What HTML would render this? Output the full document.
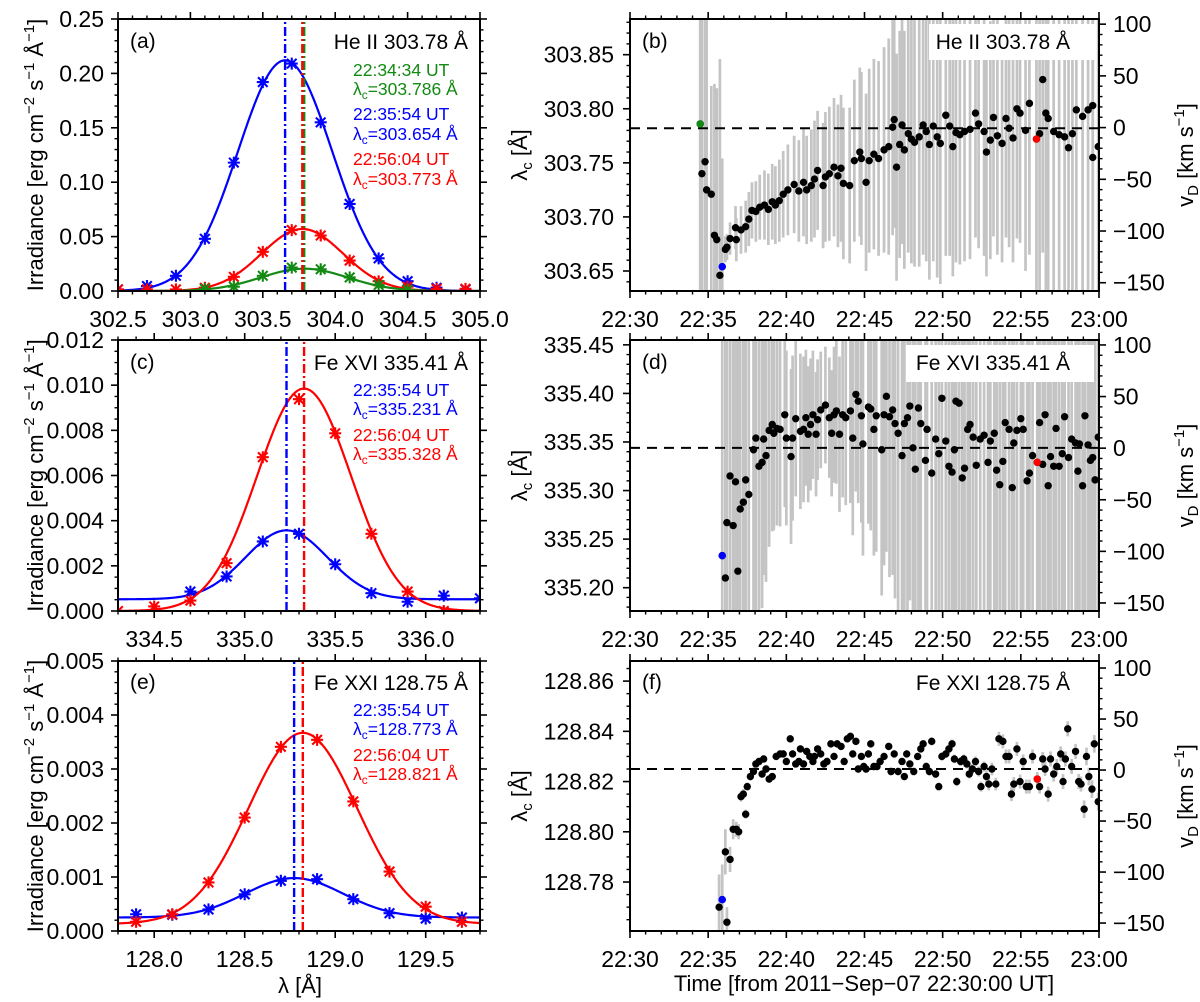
<!DOCTYPE html>
<html><head><meta charset="utf-8"><style>
html,body{margin:0;padding:0;background:#fff;}
svg{display:block;}
text{font-family:"Liberation Sans",Arial,sans-serif;}
</style></head><body>
<svg id="chart" xmlns="http://www.w3.org/2000/svg" width="1200" height="1002" viewBox="0 0 1200 1002">
<rect x="0" y="0" width="1200" height="1002" fill="#fff"/>
</svg>
<script>
// ---------- Panel (a) He II spectra ----------
const xA = [302.5,302.7,302.9,303.1,303.3,303.5,303.7,303.9,304.1,304.3,304.5,304.7,304.9];
const aBlue = [0.0015,0.0046,0.014,0.048,0.118,0.192,0.209,0.155,0.080,0.030,0.009,0.003,0.0015];
const aRed = [0.0015,0.0015,0.0015,0.003,0.013,0.036,0.056,0.051,0.028,0.009,0.004,0.002,0.002];
const xAg = [303.1,303.3,303.5,303.7,303.9,304.1,304.3,304.5];
const aGreen = [0.002,0.004,0.014,0.0215,0.020,0.0125,0.0055,0.001];
const fitA = {blue:[303.654,0.212,0.325,0], red:[303.773,0.057,0.28,0], green:[303.786,0.0205,0.30,0]};
// ---------- Panel (c) Fe XVI spectra ----------
const xCb = [334.7,334.9,335.1,335.3,335.5,335.7,335.9,336.1,336.3];
const cBlue = [0.00086,0.00153,0.00308,0.00342,0.00207,0.00079,0.00041,0.00068,0.00056];
const xCr = [334.3,334.5,334.7,334.9,335.1,335.3,335.5,335.7,335.9,336.1];
const cRed = [0,0.0002,0.00046,0.00212,0.00681,0.00938,0.00787,0.00342,0.00086,0];
const fitC = {blue:[335.231,0.00305,0.227,0.00052], red:[335.328,0.00985,0.26,0]};
// ---------- Panel (e) Fe XXI spectra ----------
const xE = [127.9,128.1,128.3,128.5,128.7,128.9,129.1,129.3,129.5,129.7];
const eBlue = [0.00031,0.0003,0.0004,0.00068,0.00093,0.00096,0.00059,0.00033,0.00023,0.00025];
const eRed = [0.00017,0.00031,0.0009,0.0021,0.00341,0.00354,0.0024,0.0011,0.00045,0.00017];
const fitE = {blue:[128.773,0.00073,0.27,0.00025], red:[128.821,0.00354,0.30,0.00013]};

// ---------- Panel (b) He II centroid (minutes after 22:30) ----------
const tB = [4.49,4.6,4.8,4.9,5.2,5.4,5.55,5.75,5.9,6.1,
6.2,6.4,6.75,6.8,7.1,7.4,7.6,7.8,8.05,8.3,
8.6,8.85,9.1,9.3,9.55,9.8,10.1,10.5,10.8,11.1,
11.3,11.6,11.8,12.0,12.35,12.5,12.75,13.05,13.3,13.5,
13.65,14.05,14.35,14.7,14.8,15.1,15.3,15.6,15.9,16.25,
16.55,16.8,16.9,17.05,17.25,17.4,17.55,17.8,18.0,18.2,
18.5,18.75,18.95,19.15,19.4,19.65,19.85,20.2,20.45,20.65,
20.85,21.1,21.4,21.75,22.1,22.3,22.65,22.8,23.05,23.25,
23.5,23.8,24.05,24.25,24.5,24.75,24.95,25.3,25.55,26.0,
26.2,26.4,26.6,26.75,27.1,27.45,27.8,28.05,28.3,28.55,
28.95,29.3,29.6,29.6,29.95];
const lamB = [303.786,303.740,303.751,303.725,303.721,303.683,303.679,303.646,303.654,303.670,
303.672,303.680,303.690,303.679,303.688,303.691,303.698,303.706,303.705,303.709,
303.711,303.707,303.714,303.711,303.715,303.721,303.725,303.730,303.724,303.732,
303.725,303.729,303.735,303.743,303.729,303.737,303.740,303.746,303.738,303.745,
303.731,303.729,303.752,303.760,303.754,303.732,303.752,303.758,303.754,303.762,
303.765,303.783,303.790,303.746,303.767,303.785,303.762,303.777,303.772,303.769,
303.774,303.785,303.779,303.767,303.784,303.774,303.768,303.794,303.784,303.765,
303.778,303.776,303.779,303.781,303.796,303.786,303.779,303.760,303.771,303.792,
303.775,303.768,303.791,303.782,303.773,303.800,303.796,303.780,303.805,303.772,
303.777,303.827,303.796,303.791,303.779,303.776,303.774,303.764,303.777,303.799,
303.793,303.799,303.803,303.755,303.765];
const errB = [0.4,0.4,0.4,0.4,0.1,0.14,0.14,0.2,0.1,0.012,
0.012,0.015,0.02,0.02,0.022,0.024,0.025,0.026,0.028,0.03,
0.032,0.033,0.035,0.036,0.038,0.04,0.042,0.045,0.047,0.05,
0.05,0.052,0.054,0.055,0.058,0.06,0.062,0.064,0.066,0.068,
0.07,0.072,0.075,0.078,0.08,0.082,0.085,0.088,0.09,0.095,
0.1,0.1,0.1,0.105,0.105,0.11,0.11,0.11,0.115,0.115,
0.12,0.12,0.12,0.125,0.125,0.13,0.13,0.13,0.12,0.12,
0.12,0.12,0.12,0.12,0.115,0.115,0.115,0.115,0.11,0.11,
0.11,0.11,0.11,0.11,0.115,0.12,0.12,0.13,0.14,0.15,
0.15,0.16,0.17,0.17,0.18,0.18,0.19,0.19,0.2,0.2,
0.2,0.2,0.2,0.2,0.2];
const hlB_t = [4.49,5.9,26.0];
const hlB_v = [303.786,303.654,303.772];

// ---------- Panel (d) Fe XVI centroid ----------
const tD = [5.9,6.1,6.2,6.4,6.6,6.75,6.9,7.05,7.25,7.4,
7.6,7.9,8.05,8.25,8.45,8.55,8.7,8.9,9.1,9.2,
9.4,9.6,9.9,10.0,10.3,10.4,10.6,10.9,11.1,11.25,
11.4,11.55,11.7,11.9,12.0,12.2,12.5,12.75,12.9,13.05,
13.2,13.4,13.6,13.8,14.1,14.25,14.45,14.6,14.8,14.9,
15.25,15.4,15.6,15.75,16.1,16.25,16.4,16.6,16.8,16.95,
17.15,17.4,17.55,17.75,17.9,18.1,18.25,18.45,18.6,18.9,
19.0,19.3,19.55,19.75,19.95,20.2,20.4,20.6,20.75,20.85,
21.05,21.25,21.4,21.6,21.75,21.95,22.15,22.4,22.65,22.9,
23.05,23.3,23.45,23.65,23.85,24.0,24.25,24.45,24.55,24.75,
25.0,25.15,25.4,25.55,25.75,26.05,26.2,26.4,26.55,26.75,
26.9,27.1,27.25,27.45,27.65,27.8,28.05,28.25,28.5,28.65,
28.75,28.95,29.1,29.3,29.45,29.6,29.75,29.95];
const lamD = [335.233,335.210,335.267,335.315,335.264,335.309,335.217,335.281,335.288,335.311,
335.296,335.342,335.354,335.325,335.329,335.353,335.336,335.362,335.368,335.359,
335.364,335.363,335.378,335.354,335.335,335.354,335.374,335.361,335.363,335.375,
335.358,335.368,335.378,335.358,335.373,335.383,335.388,335.375,335.359,335.378,
335.382,335.358,335.378,335.375,335.382,335.354,335.399,335.392,335.377,335.348,
335.386,335.384,335.363,335.377,335.342,335.378,335.397,335.376,335.383,335.369,
335.359,335.336,335.369,335.375,335.387,335.344,335.322,335.385,335.369,335.331,
335.363,335.318,335.353,335.338,335.395,335.351,335.325,335.319,335.342,335.392,
335.390,335.313,335.323,335.363,335.368,335.355,335.326,335.353,335.357,335.329,
335.351,335.359,335.321,335.306,335.330,335.370,335.363,335.303,335.349,335.362,
335.374,335.363,335.310,335.318,335.336,335.329,335.370,335.327,335.378,335.305,
335.335,335.325,335.364,335.325,335.338,335.376,335.334,335.353,335.349,335.320,
335.348,335.305,335.377,335.347,335.331,335.334,335.311,335.355];
const errD = [0.35,0.35,0.35,0.35,0.35,0.35,0.35,0.35,0.35,0.35,
0.3,0.2,0.18,0.16,0.15,0.14,0.13,0.12,0.11,0.1,
0.1,0.1,0.095,0.09,0.09,0.085,0.08,0.08,0.075,0.07,
0.07,0.068,0.066,0.064,0.062,0.06,0.06,0.062,0.065,0.07,
0.075,0.08,0.085,0.09,0.095,0.1,0.1,0.105,0.11,0.115,
0.12,0.125,0.13,0.14,0.15,0.155,0.16,0.165,0.17,0.18,
0.2,0.2,0.2,0.2,0.2,0.21,0.21,0.21,0.21,0.22,
0.22,0.22,0.22,0.22,0.22,0.22,0.22,0.22,0.22,0.22,
0.22,0.22,0.22,0.22,0.22,0.22,0.22,0.22,0.22,0.22,
0.22,0.22,0.22,0.22,0.22,0.22,0.22,0.22,0.22,0.22,
0.23,0.23,0.23,0.23,0.23,0.23,0.23,0.23,0.23,0.23,
0.24,0.24,0.24,0.24,0.24,0.24,0.24,0.24,0.24,0.24,
0.25,0.25,0.25,0.25,0.25,0.25,0.25,0.25];
const hlD_t = [5.9,26.05];
const hlD_v = [335.233,335.329];

// ---------- Panel (f) Fe XXI centroid ----------
const tF = [5.7,5.9,6.1,6.2,6.4,6.6,6.8,6.95,7.1,7.25,
7.4,7.5,7.7,7.9,8.05,8.25,8.45,8.55,8.7,8.9,
9.1,9.35,9.6,9.8,10.0,10.25,10.4,10.6,10.8,10.9,
11.1,11.3,11.5,11.7,11.8,12.0,12.2,12.4,12.6,12.85,
13.05,13.25,13.5,13.7,13.9,14.1,14.25,14.45,14.6,14.8,
14.95,15.1,15.25,15.4,15.6,15.8,16.0,16.25,16.55,16.7,
16.9,17.15,17.4,17.55,17.7,17.9,18.15,18.4,18.6,18.75,
18.95,19.15,19.3,19.55,19.75,19.95,20.2,20.4,20.6,20.75,
20.9,21.15,21.35,21.55,21.7,21.9,22.1,22.3,22.45,22.65,
22.8,22.95,23.15,23.4,23.6,23.85,24.05,24.25,24.4,24.55,
24.75,24.95,25.15,25.35,25.55,25.75,26.05,26.2,26.4,26.55,
26.75,26.9,27.1,27.3,27.55,27.7,27.85,28.0,28.25,28.5,
28.7,28.85,29.05,29.2,29.35,29.55,29.7,29.95];
const lamF = [128.770,128.773,128.792,128.764,128.789,128.801,128.801,128.800,128.814,128.815,
128.807,128.818,128.822,128.824,128.827,128.828,128.823,128.829,128.825,128.821,
128.822,128.830,128.831,128.831,128.828,128.837,128.831,128.827,128.828,128.833,
128.827,128.832,128.830,128.828,128.830,128.833,128.831,128.827,128.828,128.835,
128.830,128.835,128.834,128.828,128.837,128.838,128.831,128.836,128.825,128.830,
128.826,128.825,128.831,128.835,128.826,128.826,128.828,128.830,128.834,128.824,
128.831,128.824,128.828,128.822,128.831,128.827,128.824,128.830,128.833,128.835,
128.826,128.824,128.836,128.823,128.818,128.830,128.831,128.833,128.835,128.829,
128.820,128.828,128.829,128.827,128.823,128.825,128.828,128.824,128.818,128.826,
128.822,128.819,128.825,128.819,128.837,128.836,128.830,128.830,128.815,128.819,
128.833,128.820,128.828,128.818,128.818,128.830,128.821,128.818,128.829,128.825,
128.815,128.829,128.823,128.826,128.831,128.820,128.829,128.841,128.826,128.832,
128.820,128.819,128.809,128.830,128.822,128.817,128.835,128.812];
const errF = [0.013,0.014,0.009,0.006,0.005,0.004,0.003,0.003,0.002,0.002,
0.0018,0.0016,0.0015,0.0015,0.0015,0.0015,0.0015,0.0015,0.0015,0.0015,
0.0015,0.0015,0.0015,0.0015,0.0015,0.0015,0.0015,0.0015,0.0015,0.0015,
0.0015,0.0015,0.0015,0.0015,0.0015,0.0015,0.0015,0.0015,0.0015,0.0015,
0.0015,0.0015,0.0015,0.0015,0.0015,0.0015,0.0015,0.0015,0.0015,0.0015,
0.0015,0.0015,0.0015,0.0015,0.0015,0.0015,0.0015,0.0015,0.0015,0.0015,
0.0015,0.0015,0.0015,0.0015,0.0015,0.0015,0.0015,0.0015,0.0015,0.0015,
0.0016,0.0016,0.0016,0.0016,0.0016,0.0017,0.0017,0.0017,0.0017,0.0017,
0.0018,0.0018,0.0018,0.0018,0.0018,0.002,0.002,0.002,0.002,0.002,
0.0025,0.0025,0.0025,0.0025,0.0028,0.0028,0.0028,0.0028,0.0028,0.0028,
0.0028,0.0028,0.0028,0.0028,0.0028,0.0028,0.0028,0.0028,0.0028,0.0028,
0.003,0.003,0.003,0.003,0.003,0.003,0.003,0.003,0.003,0.003,
0.003,0.003,0.0035,0.0035,0.0035,0.0035,0.0035,0.0035];
const hlF_t = [5.9,26.05];
const hlF_v = [128.773,128.821];

// ---------- tick labels ----------
const ticksXA = [302.5,303.0,303.5,304.0,304.5,305.0];
const labelsXA = ["302.5","303.0","303.5","304.0","304.5","305.0"];
const ticksYA = [0,0.05,0.10,0.15,0.20,0.25];
const labelsYA = ["0.00","0.05","0.10","0.15","0.20","0.25"];
const ticksXC = [334.5,335.0,335.5,336.0];
const labelsXC = ["334.5","335.0","335.5","336.0"];
const ticksYC = [0,0.002,0.004,0.006,0.008,0.010,0.012];
const labelsYC = ["0.000","0.002","0.004","0.006","0.008","0.010","0.012"];
const ticksXE = [128.0,128.5,129.0,129.5];
const labelsXE = ["128.0","128.5","129.0","129.5"];
const ticksYE = [0,0.001,0.002,0.003,0.004,0.005];
const labelsYE = ["0.000","0.001","0.002","0.003","0.004","0.005"];
const ticksT = [0,5,10,15,20,25,30];
const labelsT = ["22:30","22:35","22:40","22:45","22:50","22:55","23:00"];
const ticksYB = [303.65,303.70,303.75,303.80,303.85];
const labelsYB = ["303.65","303.70","303.75","303.80","303.85"];
const ticksYD = [335.20,335.25,335.30,335.35,335.40,335.45];
const labelsYD = ["335.20","335.25","335.30","335.35","335.40","335.45"];
const ticksYF = [128.78,128.80,128.82,128.84,128.86];
const labelsYF = ["128.78","128.80","128.82","128.84","128.86"];
const ticksV = [-150,-100,-50,0,50,100];
const labelsV = ["\u2212150","\u2212100","\u221250","0","50","100"];
const restB = 303.782, restD = 335.344, restF = 128.825;

const NS = 'http://www.w3.org/2000/svg';
const svg = document.getElementById('chart');
const BLUE = '#0000ff', RED = '#ff0000', GREEN = '#138a13';
function mk(tag, attrs, parent) {
  const e = document.createElementNS(NS, tag);
  for (const k in attrs) e.setAttribute(k, attrs[k]);
  (parent || svg).appendChild(e);
  return e;
}
function lin(d0, d1, r0, r1) { return v => r0 + (v - d0) / (d1 - d0) * (r1 - r0); }
function fmt(v) { return Math.round(v * 1e6) / 1e6; }

const rowTop = [19, 340, 661], rowBot = [291, 611, 931];
const LX0 = 118, LX1 = 480, RX0 = 630, RX1 = 1099;
let clipN = 0;

function makeClip(x0, y0, x1, y1) {
  clipN++;
  const cp = mk('clipPath', {id: 'clip' + clipN});
  mk('rect', {x: x0, y: y0, width: x1 - x0, height: y1 - y0}, cp);
  return 'url(#clip' + clipN + ')';
}

function addText(parent, x, y, str, size, anchor, fill) {
  const t = mk('text', {x: x, y: y, 'font-size': size, 'text-anchor': anchor || 'start', fill: fill || '#000'}, parent);
  t.textContent = str;
  return t;
}

function ticks(g, side, scale, majors, labels, minStep, d0, d1, fix, labOff) {
  const majSet = majors.map(fmt);
  const all = [];
  const start = Math.ceil(Math.min(d0, d1) / minStep - 1e-6) * minStep;
  for (let v = start; v <= Math.max(d0, d1) + 1e-9; v += minStep) all.push(fmt(v));
  all.forEach(v => {
    const isMaj = majSet.some(m => Math.abs(m - v) < minStep * 0.01);
    if (isMaj) return;
    const p = scale(v), L = 3.5;
    let a;
    if (side === 'bottom') a = {x1: p, x2: p, y1: fix, y2: fix + L};
    else if (side === 'top') a = {x1: p, x2: p, y1: fix, y2: fix - L};
    else if (side === 'left') a = {x1: fix, x2: fix - L, y1: p, y2: p};
    else a = {x1: fix, x2: fix + L, y1: p, y2: p};
    a.stroke = '#000'; a['stroke-width'] = 1.4;
    const ln = mk('line', a, g);
    
    
  });
  majors.forEach((v, i) => {
    const p = scale(v), L = 7;
    let a;
    if (side === 'bottom') a = {x1: p, x2: p, y1: fix, y2: fix + L};
    else if (side === 'top') a = {x1: p, x2: p, y1: fix, y2: fix - L};
    else if (side === 'left') a = {x1: fix, x2: fix - L, y1: p, y2: p};
    else a = {x1: fix, x2: fix + L, y1: p, y2: p};
    a.stroke = '#000'; a['stroke-width'] = 1.6;
    const ln = mk('line', a, g);
    
    
    if (labels) {
      let t;
      if (side === 'bottom') t = addText(g, p, fix + labOff, labels[i], 23, 'middle');
      else if (side === 'left') t = addText(g, fix - labOff, p + 8, labels[i], 23, 'end');
      else if (side === 'right') t = addText(g, fix + labOff, p + 8, labels[i], 23, 'start');
      if (t) {
        
        
      }
    }
  });
}

function frame(g, x0, y0, x1, y1) {
  const r = mk('rect', {x: x0, y: y0, width: x1 - x0, height: y1 - y0, fill: 'none', stroke: '#000', 'stroke-width': 2}, g);
  
  
}

function asterisk(g, x, y, col) {
  const R = 6, d = R * 0.8;
  const p = mk('path', {d: `M${x},${y-R}V${y+R}M${x-R},${y}H${x+R}M${x-d},${y-d}L${x+d},${y+d}M${x-d},${y+d}L${x+d},${y-d}`, stroke: col, 'stroke-width': 2.1, fill: 'none'}, g);
  
  
}

function gaussCurve(g, sx, sy, d0, d1, par, col) {
  let d = '';
  for (let i = 0; i <= 300; i++) {
    const x = d0 + (d1 - d0) * i / 300;
    const y = par[3] + par[1] * Math.exp(-((x - par[0]) ** 2) / (2 * par[2] * par[2]));
    d += (i ? 'L' : 'M') + sx(x).toFixed(2) + ',' + sy(y).toFixed(2);
  }
  const p = mk('path', {d: d, stroke: col, 'stroke-width': 2.2, fill: 'none'}, g);
  
  
}

function vline(g, sx, x, y0, y1, col) {
  const l = mk('line', {x1: sx(x), x2: sx(x), y1: y0, y2: y1, stroke: col, 'stroke-width': 2.4, 'stroke-dasharray': '9,3,2,3'}, g);
  
  
}

function richLabel(g, x, y, parts, size, fill, anchor) {
  const t = mk('text', {x: x, y: y, 'font-size': size, fill: fill || '#000', 'text-anchor': anchor || 'start'}, g);
  parts.forEach(p => {
    const ts = mk('tspan', {}, t);
    if (p[1] === 'sub') { ts.setAttribute('font-size', size * 0.68); ts.setAttribute('dy', size * 0.22); }
    if (p[1] === 'sup') { ts.setAttribute('font-size', size * 0.68); ts.setAttribute('dy', -size * 0.4); }
    if (p[1] === 'base-sub') { ts.setAttribute('dy', -size * 0.22); }
    if (p[1] === 'base-sup') { ts.setAttribute('dy', size * 0.4); }
    ts.textContent = p[0];
  });
  return t;
}

function leftPanel(row, name, xd, yd, xt, xl, xm, yt, yl, ym, series, fits, lines, letter, title, notes) {
  const g = mk('g', {});
  
  
  const y0 = rowTop[row], y1 = rowBot[row];
  const sx = lin(xd[0], xd[1], LX0, LX1), sy = lin(yd[0], yd[1], y1, y0);
  const clip = makeClip(LX0, y0, LX1, y1);
  const inner = mk('g', {'clip-path': clip}, g);
  fits.forEach(f => gaussCurve(inner, sx, sy, xd[0], xd[1], f[0], f[1]));
  lines.forEach(l => vline(inner, sx, l[0], y1, y0, l[1]));
  series.forEach(s => s[0].forEach((x, i) => asterisk(inner, sx(x), sy(s[1][i]), s[2])));
  frame(g, LX0, y0, LX1, y1);
  ticks(g, 'bottom', sx, xt, xl, xm, xd[0], xd[1], y1, 36);
  ticks(g, 'top', sx, xt, null, xm, xd[0], xd[1], y0, 0);
  ticks(g, 'left', sy, yt, yl, ym, yd[0], yd[1], LX0, 14);
  ticks(g, 'right', sy, yt, null, ym, yd[0], yd[1], LX1, 0);
  const L = addText(g, 130, notes.base, letter, 21);
  
  
  const T = addText(g, 468, notes.base + 1, title, 21, 'end');
  
  
  notes.items.forEach(it => {
    const a = addText(g, 353, it[0], it[2], 17.5, 'start', it[4]);
    
    
    const b = richLabel(g, 353, it[1], [['\u03bb'], ['c', 'sub'], ['=' + it[3] + ' \u00c5', 'base-sub']], 17.5, it[4]);
    
    
  });
  const yl2 = richLabel(g, 43, (y0 + y1) / 2, [['Irradiance [erg cm'], ['\u22122', 'sup'], [' s', 'base-sup'], ['\u22121', 'sup'], [' \u00c5', 'base-sup'], ['\u22121', 'sup'], [']', 'base-sup']], 22, '#000', 'middle');
  yl2.setAttribute('transform', `rotate(-90,43,${(y0 + y1) / 2})`);
  
  
}

leftPanel(0, 'panel-a-he2-spectra', [302.5, 305.0], [0, 0.25], ticksXA, labelsXA, 0.1, ticksYA, labelsYA, 0.01,
  [[xA, aBlue, BLUE], [xA, aRed, RED], [xAg, aGreen, GREEN]],
  [[fitA.blue, BLUE], [fitA.red, RED], [fitA.green, GREEN]],
  [[fitA.blue[0], BLUE], [fitA.green[0], GREEN], [fitA.red[0], RED]],
  '(a)', 'He II 303.78 \u00c5',
  {base: 48, items: [[76, 95, '22:34:34 UT', '303.786', GREEN], [120, 140, '22:35:54 UT', '303.654', BLUE], [165, 185, '22:56:04 UT', '303.773', RED]]});

leftPanel(1, 'panel-c-fe16-spectra', [334.3, 336.3], [0, 0.012], ticksXC, labelsXC, 0.1, ticksYC, labelsYC, 0.0005,
  [[xCb, cBlue, BLUE], [xCr, cRed, RED]],
  [[fitC.blue, BLUE], [fitC.red, RED]],
  [[fitC.blue[0], BLUE], [fitC.red[0], RED]],
  '(c)', 'Fe XVI 335.41 \u00c5',
  {base: 369, items: [[396, 415, '22:35:54 UT', '335.231', BLUE], [441, 460, '22:56:04 UT', '335.328', RED]]});

leftPanel(2, 'panel-e-fe21-spectra', [127.8, 129.8], [0, 0.005], ticksXE, labelsXE, 0.1, ticksYE, labelsYE, 0.0002,
  [[xE, eBlue, BLUE], [xE, eRed, RED]],
  [[fitE.blue, BLUE], [fitE.red, RED]],
  [[fitE.blue[0], BLUE], [fitE.red[0], RED]],
  '(e)', 'Fe XXI 128.75 \u00c5',
  {base: 689, items: [[716, 735, '22:35:54 UT', '128.773', BLUE], [761, 780, '22:56:04 UT', '128.821', RED]]});

function rightPanel(row, name, ld, vd, yt, yl, ym, t, lam, err, hlt, hlv, hlc, rest, letter, title, base, box) {
  const g = mk('g', {});
  
  
  const y0 = rowTop[row], y1 = rowBot[row];
  const sx = lin(0, 30, RX0, RX1), sy = lin(ld[0], ld[1], y1, y0), sv = lin(vd[0], vd[1], y1, y0);
  const clip = makeClip(RX0, y0, RX1, y1);
  const inner = mk('g', {'clip-path': clip}, g);
  t.forEach((tt, i) => {
    const e = mk('line', {x1: sx(tt), x2: sx(tt), y1: sy(lam[i] - err[i]), y2: sy(lam[i] + err[i]), stroke: '#c4c4c4', 'stroke-width': 2.7}, inner);
    
    
  });
  if (box) {
    const b = mk('rect', {x: box[0], y: box[1], width: box[2] - box[0], height: box[3] - box[1], fill: '#fff'}, inner);
    
    
  }
  const dl = mk('line', {x1: RX0, x2: RX1, y1: sy(rest), y2: sy(rest), stroke: '#000', 'stroke-width': 2, 'stroke-dasharray': '10,7'}, inner);
  
  
  t.forEach((tt, i) => {
    const c = mk('circle', {cx: sx(tt), cy: sy(lam[i]), r: 3.7, fill: '#000'}, inner);
    
    
  });
  hlt.forEach((tt, i) => {
    const c = mk('circle', {cx: sx(tt), cy: sy(hlv[i]), r: 3.7, fill: hlc[i]}, inner);
    
    
  });
  frame(g, RX0, y0, RX1, y1);
  ticks(g, 'bottom', sx, ticksT, labelsT, 1, 0, 30, y1, 36);
  ticks(g, 'top', sx, ticksT, null, 1, 0, 30, y0, 0);
  ticks(g, 'left', sy, yt, yl, ym, ld[0], ld[1], RX0, 16);
  ticks(g, 'right', sv, ticksV, labelsV, 10, vd[0], vd[1], RX1, 14);
  const L = addText(g, 642, base, letter, 21);
  
  
  const T = addText(g, 1070, base + 1, title, 21, 'end');
  
  
  const cy = (y0 + y1) / 2;
  const a = richLabel(g, 527, cy, [['\u03bb'], ['c', 'sub'], [' [\u00c5]', 'base-sub']], 22, '#000', 'middle');
  a.setAttribute('transform', `rotate(-90,527,${cy})`);
  
  
  const b = richLabel(g, 1193, cy, [['v'], ['D', 'sub'], [' [km s', 'base-sub'], ['\u22121', 'sup'], [']', 'base-sup']], 22, '#000', 'middle');
  b.setAttribute('transform', `rotate(-90,1193,${cy})`);
  
  
}

rightPanel(0, 'panel-b-he2-centroid', [303.6315, 303.883], [-158, 105], ticksYB, labelsYB, 0.01,
  tB, lamB, errB, hlB_t, hlB_v, [GREEN, BLUE, RED], restB, '(b)', 'He II 303.78 \u00c5', 48, [929, 24, 1096, 60]);
rightPanel(1, 'panel-d-fe16-centroid', [335.176, 335.455], [-157.8, 104.8], ticksYD, labelsYD, 0.01,
  tD, lamD, errD, hlD_t, hlD_v, [BLUE, RED], restD, '(d)', 'Fe XVI 335.41 \u00c5', 369, [906, 345, 1094, 382]);
rightPanel(2, 'panel-f-fe21-centroid', [128.7605, 128.868], [-157.8, 106.9], ticksYF, labelsYF, 0.005,
  tF, lamF, errF, hlF_t, hlF_v, [BLUE, RED], restF, '(f)', 'Fe XXI 128.75 \u00c5', 689, null);

const xl1 = addText(svg, 300, 993, '\u03bb [\u00c5]', 22, 'middle');


const xl2 = addText(svg, 864, 991, 'Time [from 2011\u2212Sep\u221207 22:30:00 UT]', 22, 'middle');


</script>
</body></html>
